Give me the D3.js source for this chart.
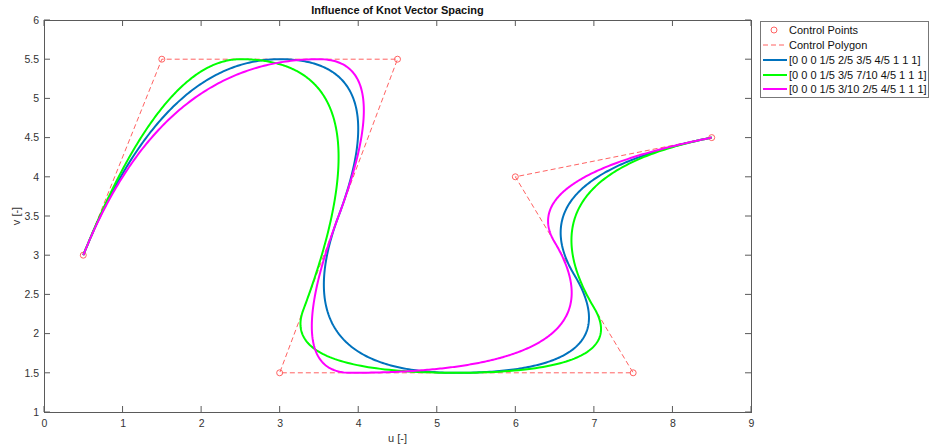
<!DOCTYPE html>
<html><head><meta charset="utf-8">
<script src="https://cdn.jsdelivr.net/npm/d3@7"></script>
<style>body{margin:0;background:#fff}svg{font-family:"Liberation Sans",Arial,sans-serif}</style>
</head><body><svg id="c" width="931" height="448"></svg>
<script>
const ctrlU = [0.5, 1.5, 4.5, 3, 7.5, 6, 8.5];
const ctrlV = [3, 5.5, 5.5, 1.5, 1.5, 4, 4.5];
const knotsBlue = [0,0,0,1/5,2/5,3/5,4/5,1,1,1];
const knotsGreen = [0,0,0,1/5,3/5,7/10,4/5,1,1,1];
const knotsMagenta = [0,0,0,1/5,3/10,2/5,4/5,1,1,1];
const seriesLabels = ["[0 0 0 1/5 2/5 3/5 4/5 1 1 1]","[0 0 0 1/5 3/5 7/10 4/5 1 1 1]","[0 0 0 1/5 3/10 2/5 4/5 1 1 1]"];
const seriesColors = ["#0072BD","#00FF00","#FF00FF"];
const xTicks = [0,1,2,3,4,5,6,7,8,9];
const yTicks = [1,1.5,2,2.5,3,3.5,4,4.5,5,5.5,6];
const degree = 2;

function basis(i,p,t,k){
  if(p===0){
    if(t===k[k.length-1]) { // last span inclusive
      return (k[i]<t && t<=k[i+1]) || (k[i]<=t && t<=k[i+1] && k[i]<k[i+1] && k[i+1]===t) ? 1:0;
    }
    return (k[i]<=t && t<k[i+1]) ? 1:0;
  }
  let a=0,b=0;
  const d1=k[i+p]-k[i], d2=k[i+p+1]-k[i+1];
  if(d1>0) a=(t-k[i])/d1*basis(i,p-1,t,k);
  if(d2>0) b=(k[i+p+1]-t)/d2*basis(i+1,p-1,t,k);
  return a+b;
}
function curve(k){
  const pts=[]; const N=600;
  for(let s=0;s<=N;s++){
    const t=s/N; let x=0,y=0;
    for(let i=0;i<ctrlU.length;i++){const B=basis(i,degree,t,k);x+=B*ctrlU[i];y+=B*ctrlV[i];}
    pts.push([x,y]);
  }
  return pts;
}

const svg=d3.select("#c");
const L=44,R=751,T=20,B=412;
const x=d3.scaleLinear().domain([0,9]).range([L,R]);
const y=d3.scaleLinear().domain([1,6]).range([B,T]);
const axc="#5a5a5a";

const g=svg.append("g");
// axes box
const fs="10.5px";
const xa=svg.append("g").attr("transform",`translate(0,${B})`).call(d3.axisBottom(x).tickValues(xTicks).tickSize(0).tickPadding(8).tickFormat(d3.format("")));
const ya=svg.append("g").attr("transform",`translate(${L},0)`).call(d3.axisLeft(y).tickValues(yTicks).tickSize(0).tickPadding(5).tickFormat(d3.format("")));
[xa,ya].forEach(a=>{a.select(".domain").remove();a.selectAll("text").attr("fill","#333").style("font-size",fs);});
// tick marks inside
xTicks.forEach(v=>{
  g.append("line").attr("x1",x(v)).attr("x2",x(v)).attr("y1",B).attr("y2",B-6).attr("stroke",axc);
  g.append("line").attr("x1",x(v)).attr("x2",x(v)).attr("y1",T).attr("y2",T+6).attr("stroke",axc);
});
yTicks.forEach(v=>{
  g.append("line").attr("y1",y(v)).attr("y2",y(v)).attr("x1",L).attr("x2",L+6).attr("stroke",axc);
  g.append("line").attr("y1",y(v)).attr("y2",y(v)).attr("x1",R).attr("x2",R-6).attr("stroke",axc);
});
g.append("rect").attr("x",L+0.5).attr("y",T+0.5).attr("width",R-L).attr("height",B-T).attr("fill","none").attr("stroke",axc);

svg.append("text").attr("x",(L+R)/2).attr("y",14).attr("text-anchor","middle").style("font-size","11px").style("font-weight","bold").attr("fill","#111").text("Influence of Knot Vector Spacing");
svg.append("text").attr("x",(L+R)/2).attr("y",442).attr("text-anchor","middle").style("font-size","11px").attr("fill","#333").text("u [-]");
svg.append("text").attr("transform",`translate(20,${(T+B)/2}) rotate(-90)`).attr("text-anchor","middle").style("font-size","11px").attr("fill","#333").text("v [-]");

const line=d3.line().x(d=>x(d[0])).y(d=>y(d[1]));
const cp=ctrlU.map((u,i)=>[u,ctrlV[i]]);
const red="#FF6262";
svg.append("path").attr("d",line(cp)).attr("fill","none").attr("stroke",red).attr("stroke-width",1).attr("stroke-dasharray","5,3");
svg.selectAll("circle.cp").data(cp).enter().append("circle").attr("cx",d=>x(d[0])).attr("cy",d=>y(d[1])).attr("r",3).attr("fill","none").attr("stroke",red).attr("stroke-width",1);

[knotsBlue,knotsGreen,knotsMagenta].forEach((k,i)=>{
  svg.append("path").attr("d",line(curve(k))).attr("fill","none").attr("stroke",seriesColors[i]).attr("stroke-width",2);
});

// legend
const lg=svg.append("g");
lg.append("rect").attr("x",760.5).attr("y",21.5).attr("width",168).attr("height",76).attr("fill","#fff").attr("stroke","#777");
const ly=[30,45,60,75,89];
lg.append("circle").attr("cx",774).attr("cy",ly[0]).attr("r",3).attr("fill","none").attr("stroke",red);
lg.append("line").attr("x1",763).attr("x2",787).attr("y1",ly[1]).attr("y2",ly[1]).attr("stroke",red).attr("stroke-dasharray","5,3");
seriesColors.forEach((c,i)=>lg.append("line").attr("x1",763).attr("x2",787).attr("y1",ly[i+2]).attr("y2",ly[i+2]).attr("stroke",c).attr("stroke-width",2));
const labs=["Control Points","Control Polygon"].concat(seriesLabels);
labs.forEach((t,i)=>lg.append("text").attr("x",i<2?789:789).attr("y",ly[i]+4).style("font-size","11px").attr("fill","#111").text(t));
</script></body></html>
